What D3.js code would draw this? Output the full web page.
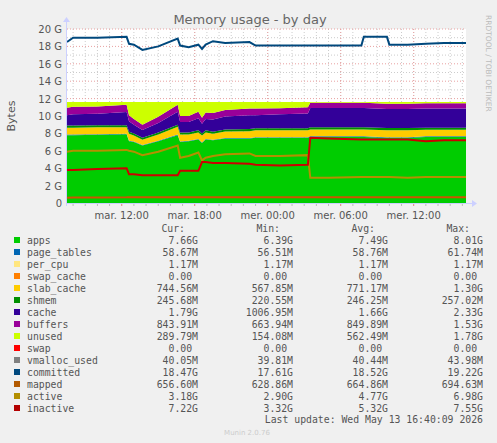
<!DOCTYPE html>
<html><head><meta charset="utf-8">
<script src="https://cdn.jsdelivr.net/npm/d3@7"></script>
<style>
body{margin:0;background:#f0f0f0;}
svg{display:block;}
</style></head>
<body><svg id="chart" width="497" height="443"></svg>
<script>
// hours since Tuesday 00:00
const hours = [7.5, 8.0, 10.0, 12.4, 12.6, 13.0, 13.7, 15.0, 16.6, 16.8, 17.5, 18.3, 18.6, 18.9, 19.5, 20.5, 22.5, 23.0, 25.0, 27.3, 27.5, 29.0, 31.7, 31.9, 33.8, 34.0, 35.5, 37.0, 38.5, 40.3];
const totalRam = 11.62;
const apps      = [7.8,7.8,7.85,7.9,7.1,7.0,6.6,7.1,7.8,7.0,7.1,7.3,6.9,7.3,7.2,7.4,7.4,7.5,7.5,7.5,7.6,7.6,7.6,7.6,7.5,7.5,7.5,7.6,7.6,7.6];
const pageTables= [0.06,0.06,0.06,0.06,0.06,0.06,0.06,0.06,0.06,0.06,0.06,0.06,0.06,0.06,0.06,0.06,0.06,0.06,0.06,0.06,0.06,0.06,0.06,0.06,0.06,0.06,0.06,0.06,0.06,0.06];
const slabCache = [0.8,0.8,0.8,0.75,0.8,0.7,0.6,0.7,0.9,0.8,0.7,0.75,0.8,0.75,0.7,0.75,0.8,0.8,0.8,0.8,0.8,0.8,0.8,0.8,0.8,0.8,0.8,0.75,0.75,0.75];
const shmem     = [0.24,0.24,0.24,0.24,0.24,0.24,0.24,0.24,0.24,0.24,0.24,0.24,0.24,0.24,0.24,0.24,0.24,0.24,0.24,0.24,0.25,0.25,0.25,0.25,0.25,0.25,0.25,0.25,0.25,0.25];
const cache     = [1.2,1.3,1.3,1.5,1.2,1.0,0.9,1.1,1.5,1.2,1.2,1.4,1.1,1.3,1.4,1.5,1.6,1.5,1.6,1.7,2.2,2.2,2.2,2.2,2.2,2.2,2.2,2.2,2.2,2.2];
const buffers   = [0.85,0.85,0.85,0.85,0.7,0.65,0.6,0.7,0.8,0.7,0.7,0.75,0.7,0.75,0.75,0.75,0.75,0.75,0.7,0.7,0.6,0.6,0.6,0.6,0.6,0.6,0.6,0.6,0.6,0.6];
const committed = [18.5,19.0,19.0,19.1,18.3,18.2,17.6,18.0,18.9,18.1,17.9,18.2,17.7,18.2,18.6,18.4,18.5,18.1,18.1,18.1,18.1,18.1,18.1,19.1,19.1,18.2,18.2,18.3,18.4,18.4];
const mapped    = [0.6,0.62,0.64,0.65,0.66,0.66,0.66,0.66,0.66,0.66,0.66,0.66,0.66,0.66,0.66,0.66,0.66,0.66,0.66,0.66,0.66,0.66,0.66,0.66,0.66,0.66,0.66,0.66,0.66,0.66];
const active    = [5.9,6.0,6.0,6.1,6.0,5.9,5.5,5.9,6.6,5.2,5.4,5.8,4.9,5.2,5.4,5.6,5.7,5.4,5.4,5.5,2.9,2.9,3.0,3.0,3.0,3.0,2.9,3.0,3.0,3.0];
const inactive  = [3.8,3.8,3.9,4.0,3.3,3.3,3.2,3.2,3.2,3.7,3.7,3.7,4.7,4.7,4.6,4.6,4.5,4.4,4.3,4.4,7.5,7.4,7.3,7.3,7.3,7.3,7.3,7.1,7.2,7.2];
const unused = hours.map((h,i) => totalRam - apps[i] - pageTables[i] - slabCache[i] - shmem[i] - cache[i] - buffers[i]);

const xTicks = [12, 18, 24, 30, 36];
const xTickLabels = ["mar. 12:00", "mar. 18:00", "mer. 00:00", "mer. 06:00", "mer. 12:00"];
const yTicks = [0,2,4,6,8,10,12,14,16,18,20];

const legendNames = ["apps","page_tables","per_cpu","swap_cache","slab_cache","shmem","cache","buffers","unused","swap","vmalloc_used","committed","mapped","active","inactive"];
const legendColors = ["#00cc00","#0066b3","#ffe680","#ff8000","#ffcc00","#008f00","#330099","#990099","#ccff00","#ff0000","#808080","#00487d","#b35a00","#b38f00","#b30000"];
const legendCur = ["7.66G","58.67M","1.17M","0.00","744.56M","245.68M","1.79G","843.91M","289.79M","0.00","40.05M","18.47G","656.60M","3.18G","7.22G"];
const legendMin = ["6.39G","56.51M","1.17M","0.00","567.85M","220.55M","1006.95M","663.94M","154.08M","0.00","39.81M","17.61G","628.86M","2.90G","3.32G"];
const legendAvg = ["7.49G","58.76M","1.17M","0.00","771.17M","246.25M","1.66G","849.89M","562.49M","0.00","40.44M","18.52G","664.86M","4.77G","5.32G"];
const legendMax = ["8.01G","61.74M","1.17M","0.00","1.30G","257.02M","2.33G","1.53G","1.78G","0.00","43.98M","19.22G","694.63M","6.98G","7.55G"];

const svg = d3.select("#chart");
const pL = 67, pR = 466, pT = 29, pB = 203;
const x = d3.scaleLinear().domain([7.5, 40.3]).range([pL, pR]);
const y = d3.scaleLinear().domain([0, 20]).range([pB, pT]);

svg.append("rect").attr("x", pL).attr("y", pT).attr("width", pR-pL).attr("height", pB-pT).attr("fill", "#fff");

// grid
const g = svg.append("g");
d3.range(1, 20, 2).forEach(v => g.append("line").attr("x1", pL).attr("x2", pR).attr("y1", y(v)).attr("y2", y(v))
  .attr("stroke", "#ccc").attr("stroke-dasharray", "1,2"));
d3.range(8, 41).forEach(h => g.append("line").attr("y1", pT).attr("y2", pB).attr("x1", x(h)).attr("x2", x(h))
  .attr("stroke", "#ccc").attr("stroke-dasharray", "1,2"));
yTicks.slice(1).forEach(v => g.append("line").attr("x1", pL).attr("x2", pR).attr("y1", y(v)).attr("y2", y(v))
  .attr("stroke", "#e8a0a0").attr("stroke-dasharray", "1,2"));
xTicks.forEach(h => g.append("line").attr("y1", pT).attr("y2", pB).attr("x1", x(h)).attr("x2", x(h))
  .attr("stroke", "#e8a0a0").attr("stroke-dasharray", "1,2"));

// stacked areas
const keys = ["apps","page_tables","slab_cache","shmem","cache","buffers","unused"];
const keyColor = {apps:"#00cc00",page_tables:"#0066b3",slab_cache:"#ffcc00",shmem:"#008f00",cache:"#330099",buffers:"#990099",unused:"#ccff00"};
const rows = hours.map((h,i) => ({h, apps:apps[i], page_tables:pageTables[i], slab_cache:slabCache[i], shmem:shmem[i], cache:cache[i], buffers:buffers[i], unused:unused[i]}));
const stack = d3.stack().keys(keys)(rows);
const area = d3.area().x(d => x(d.data.h)).y0(d => y(d[0])).y1(d => y(d[1]));
svg.append("g").selectAll("path").data(stack).join("path")
  .attr("d", area).attr("fill", d => keyColor[d.key]);

// lines
const lineGen = arr => d3.line().x((d,i) => x(hours[i])).y(d => y(d))(arr);
[[mapped,"#cc5500"],[active,"#b38f00"],[inactive,"#cc0000"],[committed,"#00487d"]].forEach(([arr,c]) =>
  svg.append("path").attr("d", lineGen(arr)).attr("fill","none").attr("stroke", c).attr("stroke-width", 2));

// axes
svg.append("line").attr("x1", pL).attr("x2", pR+6).attr("y1", pB+0.5).attr("y2", pB+0.5).attr("stroke", "#ccd0ff");
svg.append("line").attr("x1", pL-0.5).attr("x2", pL-0.5).attr("y1", pB+3).attr("y2", pT-8).attr("stroke", "#ccd0ff");
svg.append("path").attr("d", `M${pR+6},${pB-3}L${pR+11},${pB+0.5}L${pR+6},${pB+4}Z`).attr("fill","#ccd0ff");
svg.append("path").attr("d", `M${pL-4},${pT-7}L${pL-0.5},${pT-12}L${pL+3},${pT-7}Z`).attr("fill","#ccd0ff");
d3.range(8, 41).forEach(h => svg.append("line").attr("x1", x(h)).attr("x2", x(h)).attr("y1", pB+1).attr("y2", pB+3)
  .attr("stroke", xTicks.includes(h) ? "#e08080" : "#bbb"));

const font = "DejaVu Sans, sans-serif";
yTicks.forEach(v => svg.append("text").attr("x", pL-5).attr("y", y(v)+4).attr("text-anchor","end")
  .attr("font-family", font).attr("font-size", 10).attr("fill", "#555").text(v === 0 ? "0" : v + " G"));
xTicks.forEach((h,i) => svg.append("text").attr("x", x(h)).attr("y", pB+16).attr("text-anchor","middle")
  .attr("font-family", font).attr("font-size", 10).attr("fill", "#555").text(xTickLabels[i]));

svg.append("text").attr("x", 250).attr("y", 24).attr("text-anchor","middle").attr("font-family", font)
  .attr("font-size", 13).attr("fill", "#666").text("Memory usage - by day");
svg.append("text").attr("transform", "translate(15,116) rotate(-90)").attr("text-anchor","middle")
  .attr("font-family", font).attr("font-size", 11).attr("fill", "#555").text("Bytes");
svg.append("text").attr("transform", "translate(486,15) rotate(90)").attr("font-family", font)
  .attr("font-size", 7.5).attr("fill", "#bbb").text("RRDTOOL / TOBI OETIKER");

// legend
const mono = "DejaVu Sans Mono, monospace";
const cw = 5.9;
const hdr = [["Cur:",185],["Min:",280],["Avg:",375],["Max:",470]];
hdr.forEach(([t,xr]) => svg.append("text").attr("x", xr).attr("y", 232).attr("text-anchor","end")
  .attr("font-family", mono).attr("font-size", 9.8).attr("fill", "#555").text(t));
const cols = [[legendCur,198],[legendMin,293],[legendAvg,388],[legendMax,483]];
legendNames.forEach((n,i) => {
  const yy = 240 + i*12;
  svg.append("rect").attr("x", 14).attr("y", yy-3).attr("width", 6).attr("height", 6).attr("fill", legendColors[i]);
  svg.append("text").attr("x", 27).attr("y", yy+3.5).attr("font-family", mono).attr("font-size", 9.8).attr("fill", "#555").text(n);
  cols.forEach(([arr,xr]) => {
    const v = arr[i];
    svg.append("text").attr("x", v === "0.00" ? xr - cw : xr).attr("y", yy+3.5).attr("text-anchor","end")
      .attr("font-family", mono).attr("font-size", 9.8).attr("fill", "#555").text(v);
  });
});
svg.append("text").attr("x", 483).attr("y", 423).attr("text-anchor","end").attr("font-family", mono)
  .attr("font-size", 9.8).attr("fill", "#555").text("Last update: Wed May 13 16:40:09 2026");
svg.append("text").attr("x", 247).attr("y", 435).attr("text-anchor","middle").attr("font-family", font)
  .attr("font-size", 7).attr("fill", "#ccc").text("Munin 2.0.76");
</script></body></html>
